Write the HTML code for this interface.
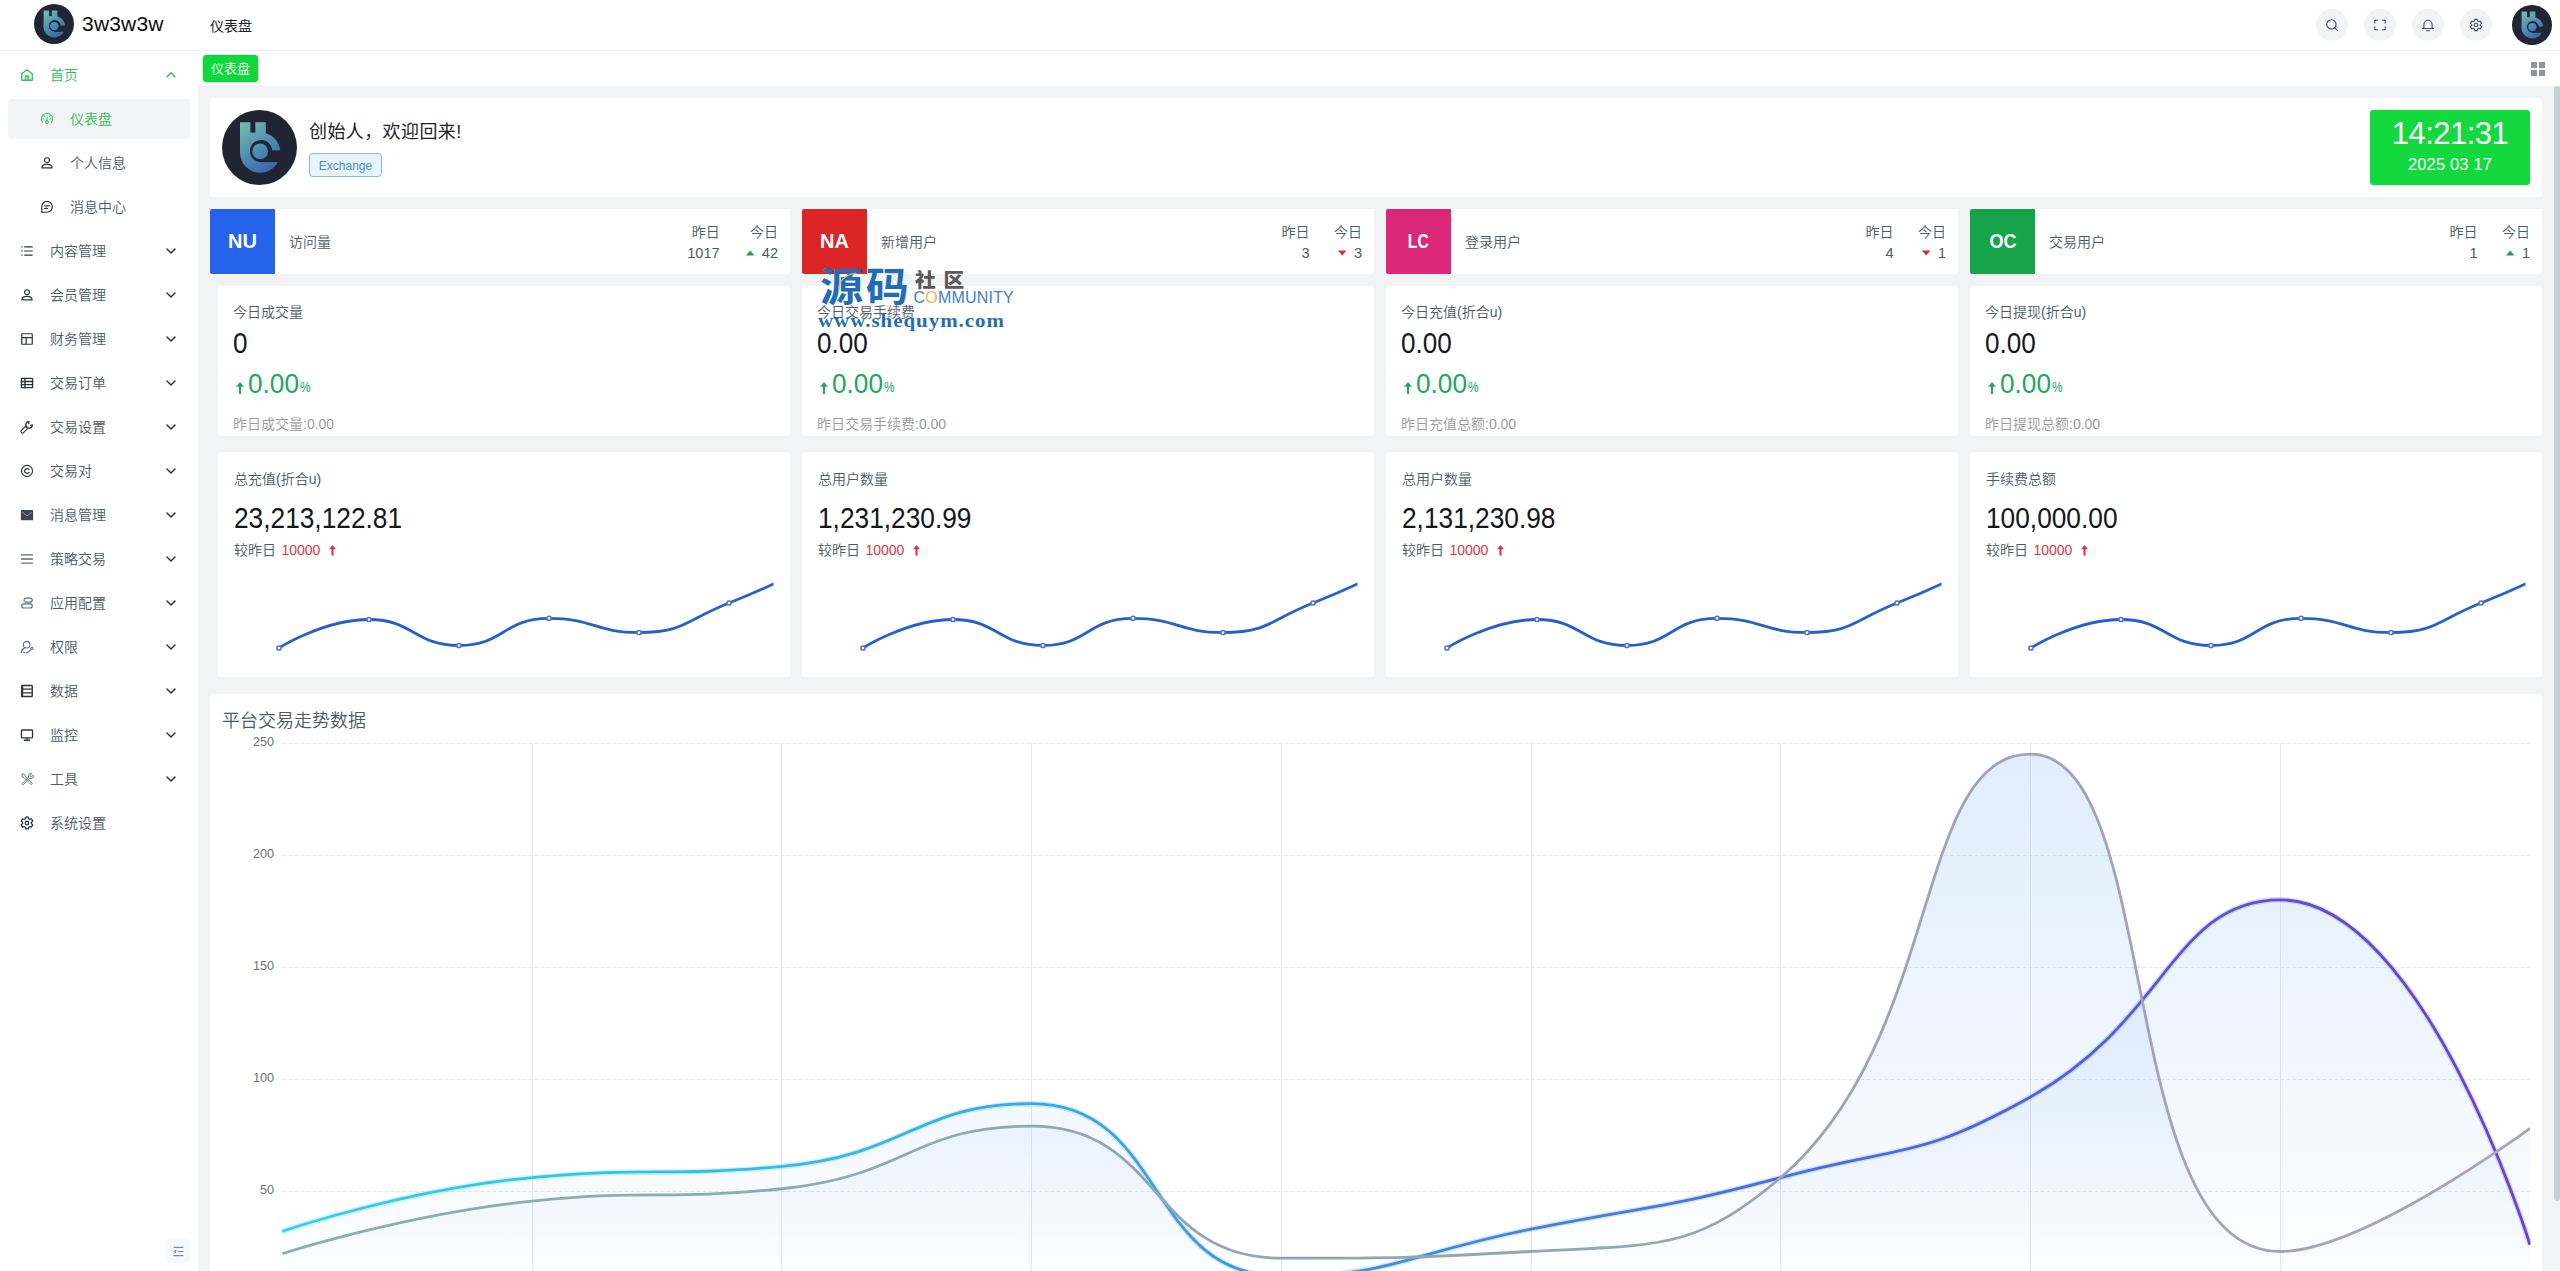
<!DOCTYPE html>
<html lang="zh-CN">
<head>
<meta charset="utf-8">
<title>3w3w3w - 仪表盘</title>
<style>
*{box-sizing:border-box;margin:0;padding:0}
html,body{width:2560px;height:1271px;overflow:hidden;background:#fff}
body{font-family:"Liberation Sans","Noto Sans CJK SC",sans-serif;font-weight:350;color:#333;position:relative;-webkit-font-smoothing:antialiased}
.abs{position:absolute}
svg{display:block;overflow:visible}
/* header */
#hdr{position:absolute;left:0;top:0;width:2560px;height:51px;background:#fff;border-bottom:1px solid #eff0f2}
#logo{position:absolute;left:34px;top:4px;width:40px;height:40px}
#brand{position:absolute;left:82px;top:8px;font-size:21px;line-height:32px;color:#0c0c0c;letter-spacing:.2px;white-space:nowrap}
#crumb{position:absolute;left:210px;top:16px;font-size:14px;line-height:20px;color:#1d2129;font-weight:400;white-space:nowrap}
.hbtn{position:absolute;top:9px;width:32px;height:32px;border-radius:50%;background:#f2f3f5}
.hbtn svg{position:absolute;left:9px;top:9px;width:14px;height:14px}
#avatar{position:absolute;left:2512px;top:5px;width:40px;height:40px}
/* tabs */
#tabs{position:absolute;left:198px;top:51px;width:2362px;height:35px;background:#fff}
#tag{position:absolute;left:203px;top:55px;width:55px;height:27px;border-radius:3px;background:#0ed83b;border:1px solid #1fc648;color:#fff;font-size:13px;line-height:25px;text-align:center;white-space:nowrap;box-shadow:0 0 3px rgba(20,214,62,.5)}
#gridico{position:absolute;left:2531px;top:62px;width:14px;height:14px}
#gridico i{position:absolute;width:6px;height:6px;background:#8993a1}
/* sidebar */
#side{position:absolute;left:0;top:51px;width:198px;height:1220px;background:#fff}
.mi{position:absolute;left:8px;width:182px;height:40px;border-radius:4px;font-size:14px;line-height:40px;color:#4e5969;white-space:nowrap}
.mi.on{background:#f2f3f5}
.mi.g{color:#2dbd52}
.mi .ic{position:absolute;left:12px;top:13px;width:14px;height:14px}
.mi .tx{position:absolute;left:42px;top:0}
.mi.sub .ic{left:32px}
.mi.sub .tx{left:62px}
.mi .ch{position:absolute;left:157px;top:15px;width:12px;height:10px}
#fold{position:absolute;left:166px;top:1239px;width:24px;height:24px;border-radius:3px;background:#f7f8fa}
/* main */
#main{position:absolute;left:198px;top:86px;width:2362px;height:1185px;background:#f2f3f5;overflow:hidden}
#mstrip{position:absolute;left:198px;top:85px;width:65px;height:1px;background:#f2f3f5}
#sbar{position:absolute;left:2554px;top:86px;width:6px;height:1185px;background:#f2f3f5}
#sbar i{position:absolute;left:0;top:0;width:6px;height:1114.5px;border-radius:3px;background:#c9cdd4}
.card{position:absolute;background:#fff;border-radius:4px}
</style>
</head>
<body>

<div id="hdr">
 <div id="logo"><svg viewBox="0 0 100 100" ><defs><linearGradient id="lga" gradientUnits="userSpaceOnUse" x1="26" y1="18" x2="72" y2="84"><stop offset="0" stop-color="#74bcb0"/><stop offset=".5" stop-color="#4f8db0"/><stop offset="1" stop-color="#395caa"/></linearGradient></defs><circle cx="50" cy="50" r="50" fill="#212433"/><rect x="24" y="16.3" width="34.4" height="42" fill="url(#lga)"/><circle cx="50.9" cy="56.7" r="26.9" fill="url(#lga)"/><rect x="37.9" y="15" width="6.5" height="15.2" fill="#212433"/><circle cx="52.1" cy="54.7" r="14.8" fill="#1b2638"/><rect x="52.1" y="53.9" width="27" height="15.6" fill="#212433"/><circle cx="50.9" cy="55.2" r="10.5" fill="url(#lga)"/></svg></div>
 <div id="brand">3w3w3w</div>
 <div id="crumb">仪表盘</div>
 <div class="hbtn" style="left:2316px"><svg viewBox="0 0 24 24" stroke="#414b59" stroke-width="1.85" fill="none" stroke-linecap="round" stroke-linejoin="round"><circle cx="11" cy="11" r="8"/><path d="M17 17l4.2 4.2"/></svg></div>
 <div class="hbtn" style="left:2364px"><svg viewBox="0 0 24 24" stroke="#414b59" stroke-width="1.85" fill="none" stroke-linecap="round" stroke-linejoin="round"><path d="M3 8.5V4h5M16 4h5v4.5M21 15.500V20h-5M8 20H3v-4.500"/></svg></div>
 <div class="hbtn" style="left:2412px"><svg viewBox="0 0 24 24" stroke="#414b59" stroke-width="1.85" fill="none" stroke-linecap="round" stroke-linejoin="round"><path d="M5 18V11a7 7 0 0 1 14 0v7M2.500 18h19M9.500 22h5"/></svg></div>
 <div class="hbtn" style="left:2460px"><svg viewBox="0 0 24 24" stroke="#414b59" stroke-width="1.85" fill="none" stroke-linecap="round" stroke-linejoin="round"><path d="M14.62 5.18L14.23 2.35L9.77 2.35L9.38 5.18L7.41 6.33L4.76 5.25L2.53 9.11L4.79 10.86L4.79 13.14L2.53 14.89L4.76 18.75L7.41 17.67L9.38 18.82L9.77 21.65L14.23 21.65L14.62 18.82L16.59 17.67L19.24 18.75L21.47 14.89L19.21 13.14L19.21 10.86L21.47 9.11L19.24 5.25L16.59 6.33Z"/><circle cx="12" cy="12" r="3"/></svg></div>
 <div id="avatar"><svg viewBox="0 0 100 100" ><defs><linearGradient id="lgb" gradientUnits="userSpaceOnUse" x1="26" y1="18" x2="72" y2="84"><stop offset="0" stop-color="#74bcb0"/><stop offset=".5" stop-color="#4f8db0"/><stop offset="1" stop-color="#395caa"/></linearGradient></defs><circle cx="50" cy="50" r="50" fill="#212433"/><rect x="24" y="16.3" width="34.4" height="42" fill="url(#lgb)"/><circle cx="50.9" cy="56.7" r="26.9" fill="url(#lgb)"/><rect x="37.9" y="15" width="6.5" height="15.2" fill="#212433"/><circle cx="52.1" cy="54.7" r="14.8" fill="#1b2638"/><rect x="52.1" y="53.9" width="27" height="15.6" fill="#212433"/><circle cx="50.9" cy="55.2" r="10.5" fill="url(#lgb)"/></svg></div>
</div>
<div id="tabs"></div>
<div id="tag">仪表盘</div>
<div id="gridico"><i style="left:0;top:0"></i><i style="left:8px;top:0"></i><i style="left:0;top:8px"></i><i style="left:8px;top:8px"></i></div>
<div id="side"><div class="mi g" style="top:4px"><svg class="ic" viewBox="0 0 24 24"><path stroke="#33c156" stroke-width="2.3" fill="none" stroke-linecap="round" stroke-linejoin="round" d="M3 9.800L12 3l9 6.800V21H3z"/><rect x="9" y="13.500" width="6" height="7.500" fill="#7fe39a" stroke="#33c156" stroke-width="1.800"/></svg><span class="tx">首页</span><svg class="ch" viewBox="0 0 12 10"><path d="M2 6.700L6 2.700l4 4" stroke="#33c156" stroke-width="1.500" fill="none" stroke-linecap="round" stroke-linejoin="round"/></svg></div><div class="mi g on sub" style="top:48px"><svg class="ic" viewBox="0 0 24 24"><path stroke="#33c156" stroke-width="2" fill="none" stroke-linecap="round" stroke-linejoin="round" d="M4.22 17.45A9.5 9.5 0 1 1 19.78 17.45"/><path stroke="#33c156" stroke-width="1.9" fill="none" stroke-linecap="round" stroke-linejoin="round" d="M12 14.8V8.200M4.60 12.00L6.60 12.00M6.77 6.77L8.18 8.18M17.23 6.77L15.82 8.18M19.40 12.00L17.40 12.00"/><circle stroke="#33c156" stroke-width="1.9" fill="none" stroke-linecap="round" stroke-linejoin="round" cx="12" cy="17.300" r="2.300"/></svg><span class="tx">仪表盘</span></div><div class="mi sub" style="top:92px"><svg class="ic" viewBox="0 0 24 24"><circle stroke="#2f3640" stroke-width="2.1" fill="none" stroke-linecap="round" stroke-linejoin="round" cx="12" cy="7.200" r="4.200"/><path stroke="#2f3640" stroke-width="2.1" fill="none" stroke-linecap="round" stroke-linejoin="round" d="M3.200 20.500c0-4 3-6 8.800-6s8.800 2 8.800 6z"/></svg><span class="tx">个人信息</span></div><div class="mi sub" style="top:136px"><svg class="ic" viewBox="0 0 24 24"><path stroke="#2f3640" stroke-width="2.1" fill="none" stroke-linecap="round" stroke-linejoin="round" d="M3 21V11.500a9 9 0 0 1 9-9 9 9 0 0 1 9 9 9 9 0 0 1-9 9.500z"/><path stroke="#2f3640" stroke-width="2.1" fill="none" stroke-linecap="round" stroke-linejoin="round" d="M8 10h8M8 14.500h5"/></svg><span class="tx">消息中心</span></div><div class="mi " style="top:180px"><svg class="ic" viewBox="0 0 24 24"><path stroke="#2f3640" stroke-width="2.1" fill="none" stroke-linecap="round" stroke-linejoin="round" d="M8 5h13M8 12h13M8 19h13"/><path stroke="#2f3640" stroke-width="2.4" fill="none" stroke-linecap="round" stroke-linejoin="round" d="M3.200 5h.2M3.200 12h.2M3.200 19h.2"/></svg><span class="tx">内容管理</span><svg class="ch" viewBox="0 0 12 10"><path d="M2 3l4 4 4-4" stroke="#2f3640" stroke-width="1.500" fill="none" stroke-linecap="round" stroke-linejoin="round"/></svg></div><div class="mi " style="top:224px"><svg class="ic" viewBox="0 0 24 24"><circle stroke="#2f3640" stroke-width="2.1" fill="none" stroke-linecap="round" stroke-linejoin="round" cx="12" cy="7.200" r="4.200"/><path stroke="#2f3640" stroke-width="2.1" fill="none" stroke-linecap="round" stroke-linejoin="round" d="M3.200 20.500c0-4 3-6 8.800-6s8.800 2 8.800 6z"/></svg><span class="tx">会员管理</span><svg class="ch" viewBox="0 0 12 10"><path d="M2 3l4 4 4-4" stroke="#2f3640" stroke-width="1.500" fill="none" stroke-linecap="round" stroke-linejoin="round"/></svg></div><div class="mi " style="top:268px"><svg class="ic" viewBox="0 0 24 24"><rect stroke="#2f3640" stroke-width="2.1" fill="none" stroke-linecap="round" stroke-linejoin="round" x="3" y="3" width="18" height="18" rx="1"/><path stroke="#2f3640" stroke-width="2.1" fill="none" stroke-linecap="round" stroke-linejoin="round" d="M3 9.500h18M10.500 9.500V21"/></svg><span class="tx">财务管理</span><svg class="ch" viewBox="0 0 12 10"><path d="M2 3l4 4 4-4" stroke="#2f3640" stroke-width="1.500" fill="none" stroke-linecap="round" stroke-linejoin="round"/></svg></div><div class="mi " style="top:312px"><svg class="ic" viewBox="0 0 24 24"><rect stroke="#2f3640" stroke-width="2.4" fill="none" stroke-linecap="round" stroke-linejoin="round" x="2.500" y="4" width="19" height="16" rx=".5"/><path stroke="#2f3640" stroke-width="2.4" fill="none" stroke-linecap="round" stroke-linejoin="round" d="M2.500 9.500h19M2.500 14.800h19M8.500 4v16"/></svg><span class="tx">交易订单</span><svg class="ch" viewBox="0 0 12 10"><path d="M2 3l4 4 4-4" stroke="#2f3640" stroke-width="1.500" fill="none" stroke-linecap="round" stroke-linejoin="round"/></svg></div><div class="mi " style="top:356px"><svg class="ic" viewBox="0 0 24 24"><g transform="rotate(-45 12 12)"><rect stroke="#2f3640" stroke-width="1.9" fill="none" stroke-linecap="round" stroke-linejoin="round" x="-1.5" y="9.400" width="13.500" height="5.200" rx="2.600"/><path stroke="#2f3640" stroke-width="2.3" fill="none" stroke-linecap="round" stroke-linejoin="round" d="M20.600 7.710A5.600 5.600 0 1 0 20.600 16.290" stroke-linecap="butt"/><path stroke="#2f3640" stroke-width="2.3" fill="none" stroke-linecap="round" stroke-linejoin="round" d="M20.600 7.710L18.300 9.800M20.600 16.290L18.300 14.200" stroke-linecap="butt"/></g></svg><span class="tx">交易设置</span><svg class="ch" viewBox="0 0 12 10"><path d="M2 3l4 4 4-4" stroke="#2f3640" stroke-width="1.500" fill="none" stroke-linecap="round" stroke-linejoin="round"/></svg></div><div class="mi " style="top:400px"><svg class="ic" viewBox="0 0 24 24"><circle stroke="#2f3640" stroke-width="2.1" fill="none" stroke-linecap="round" stroke-linejoin="round" cx="12" cy="12" r="9.500"/><path stroke="#2f3640" stroke-width="2.1" fill="none" stroke-linecap="round" stroke-linejoin="round" d="M15.500 9.500a4.200 4.200 0 1 0 0 5"/></svg><span class="tx">交易对</span><svg class="ch" viewBox="0 0 12 10"><path d="M2 3l4 4 4-4" stroke="#2f3640" stroke-width="1.500" fill="none" stroke-linecap="round" stroke-linejoin="round"/></svg></div><div class="mi " style="top:444px"><svg class="ic" viewBox="0 0 24 24"><rect x="1.500" y="3.500" width="21" height="17.500" rx="1.500" fill="#3d4656"/><path d="M3.500 7l8.500 6.500L20.500 7" stroke="#98a1ae" stroke-width="1.600" fill="none"/></svg><span class="tx">消息管理</span><svg class="ch" viewBox="0 0 12 10"><path d="M2 3l4 4 4-4" stroke="#2f3640" stroke-width="1.500" fill="none" stroke-linecap="round" stroke-linejoin="round"/></svg></div><div class="mi " style="top:488px"><svg class="ic" viewBox="0 0 24 24"><path stroke="#636b78" stroke-width="2.2" fill="none" stroke-linecap="round" stroke-linejoin="round" d="M2.500 5h19M2.500 12h19M2.500 19h19" stroke-linecap="butt"/></svg><span class="tx">策略交易</span><svg class="ch" viewBox="0 0 12 10"><path d="M2 3l4 4 4-4" stroke="#2f3640" stroke-width="1.500" fill="none" stroke-linecap="round" stroke-linejoin="round"/></svg></div><div class="mi " style="top:532px"><svg class="ic" viewBox="0 0 24 24"><path stroke="#636b78" stroke-width="2" fill="none" stroke-linecap="round" stroke-linejoin="round" d="M9 10.500H17.500a3.500 3.500 0 0 0 0-7H10.500a3.500 3.500 0 0 0-3.500 3.500V9"/><path stroke="#636b78" stroke-width="2" fill="none" stroke-linecap="round" stroke-linejoin="round" d="M6.500 13.500H17.500a3.500 3.500 0 0 1 0 7H6.500a3.500 3.500 0 0 1 0-7z"/></svg><span class="tx">应用配置</span><svg class="ch" viewBox="0 0 12 10"><path d="M2 3l4 4 4-4" stroke="#2f3640" stroke-width="1.500" fill="none" stroke-linecap="round" stroke-linejoin="round"/></svg></div><div class="mi " style="top:576px"><svg class="ic" viewBox="0 0 24 24"><circle stroke="#636b78" stroke-width="1.9" fill="none" stroke-linecap="round" stroke-linejoin="round" cx="11.300" cy="8" r="5.600"/><path stroke="#636b78" stroke-width="1.9" fill="none" stroke-linecap="round" stroke-linejoin="round" d="M2.200 22c.3-4.200 2.300-7 5.300-8.300"/><path stroke="#636b78" stroke-width="1.9" fill="none" stroke-linecap="round" stroke-linejoin="round" d="M10.500 22l3.200-.8 5.300-5.300"/><circle stroke="#636b78" stroke-width="1.8" fill="none" stroke-linecap="round" stroke-linejoin="round" cx="20.600" cy="14.300" r="1.900"/><path stroke="#636b78" stroke-width="1.7" fill="none" stroke-linecap="round" stroke-linejoin="round" d="M6 21.500l2.500 .5"/></svg><span class="tx">权限</span><svg class="ch" viewBox="0 0 12 10"><path d="M2 3l4 4 4-4" stroke="#2f3640" stroke-width="1.500" fill="none" stroke-linecap="round" stroke-linejoin="round"/></svg></div><div class="mi " style="top:620px"><svg class="ic" viewBox="0 0 24 24"><rect stroke="#2f3640" stroke-width="2.4" fill="none" stroke-linecap="round" stroke-linejoin="round" x="3" y="2.500" width="18" height="19" rx="1"/><path stroke="#2f3640" stroke-width="2.4" fill="none" stroke-linecap="round" stroke-linejoin="round" d="M3 8.800h18M3 15.200h18"/><path stroke="#2f3640" stroke-width="3" fill="none" stroke-linecap="round" stroke-linejoin="round" d="M4 3v18" stroke-linecap="butt"/></svg><span class="tx">数据</span><svg class="ch" viewBox="0 0 12 10"><path d="M2 3l4 4 4-4" stroke="#2f3640" stroke-width="1.500" fill="none" stroke-linecap="round" stroke-linejoin="round"/></svg></div><div class="mi " style="top:664px"><svg class="ic" viewBox="0 0 24 24"><rect stroke="#2f3640" stroke-width="2.3" fill="none" stroke-linecap="round" stroke-linejoin="round" x="2.500" y="3.500" width="19" height="13.500" rx="1"/><path stroke="#2f3640" stroke-width="2.3" fill="none" stroke-linecap="round" stroke-linejoin="round" d="M12 17v3.500M7.500 21h9"/></svg><span class="tx">监控</span><svg class="ch" viewBox="0 0 12 10"><path d="M2 3l4 4 4-4" stroke="#2f3640" stroke-width="1.500" fill="none" stroke-linecap="round" stroke-linejoin="round"/></svg></div><div class="mi " style="top:708px"><svg class="ic" viewBox="0 0 24 24"><path stroke="#636b78" stroke-width="1.6" fill="none" stroke-linecap="round" stroke-linejoin="round" d="M4.500 3l3.500 1.500 1 3.200L20.500 19a1.400 1.400 0 0 1-2 2L7 9.500 4 8.500z"/><path stroke="#636b78" stroke-width="1.6" fill="none" stroke-linecap="round" stroke-linejoin="round" d="M15 8.500l-11 11a1.400 1.400 0 0 0 2 2l11-11"/><path stroke="#636b78" stroke-width="1.6" fill="none" stroke-linecap="round" stroke-linejoin="round" d="M14.500 8a4 4 0 0 1 5.500-5l-2.500 2.500.5 2 2 .5L22.500 5.500a4 4 0 0 1-5 5.500"/></svg><span class="tx">工具</span><svg class="ch" viewBox="0 0 12 10"><path d="M2 3l4 4 4-4" stroke="#2f3640" stroke-width="1.500" fill="none" stroke-linecap="round" stroke-linejoin="round"/></svg></div><div class="mi " style="top:752px"><svg class="ic" viewBox="0 0 24 24"><path stroke="#2f3640" stroke-width="2.2" fill="none" stroke-linecap="round" stroke-linejoin="round" d="M14.76 4.81L14.34 1.87L9.66 1.87L9.24 4.81L7.15 6.02L4.39 4.91L2.05 8.96L4.39 10.80L4.39 13.20L2.05 15.04L4.39 19.09L7.15 17.98L9.24 19.19L9.66 22.13L14.34 22.13L14.76 19.19L16.85 17.98L19.61 19.09L21.95 15.04L19.61 13.20L19.61 10.80L21.95 8.96L19.61 4.91L16.85 6.02Z"/><circle stroke="#2f3640" stroke-width="2.2" fill="none" stroke-linecap="round" stroke-linejoin="round" cx="12" cy="12" r="3"/></svg><span class="tx">系统设置</span></div></div>
<div id="fold"><svg viewBox="0 0 24 24" style="position:absolute;left:5.5px;top:5.5px;width:13px;height:13px"><path stroke="#848b97" stroke-width="2.200" fill="none" d="M3 4.500h18M10.500 12h10.500M3 19.500h18"/><path fill="#848b97" d="M2.500 12l5-3.800v7.600z"/></svg></div>
<style>
.s1{border-radius:2px}
.s1 .bx{position:absolute;left:0;top:0;width:65px;height:65px;border-radius:2px 0 0 2px;color:#fff;font-weight:bold;font-size:20px;line-height:65px;text-align:center}
.s1 .lb{position:absolute;left:79px;top:23px;font-size:14px;line-height:20px;color:#4e5969;white-space:nowrap}
.s1 .c1,.s1 .c2{position:absolute;top:13px;text-align:right;font-size:14px;line-height:20px;color:#4e5969;white-space:nowrap}
.s1 .c2{right:12px}
.s1 .c1{right:64.500px}
.s1 .v{position:relative;margin-top:.5px;font-size:14.6px}
.s1 .nw{position:relative;display:inline-block;padding-left:17px}
.s1 .tri{left:1px;top:7px;width:8.4px;height:6px}
.s1.w1 .c1{right:70.3px}
.s2 .t{position:absolute;left:15px;top:16px;font-size:14px;line-height:20px;color:#4e5969;white-space:nowrap}
.s2 .v{position:absolute;left:15px;top:39.5px;font-size:29.5px;line-height:34px;color:#16191f;white-space:nowrap;transform:scaleX(.885);transform-origin:0 0}
.s2 .p{position:absolute;left:15px;top:80px;height:34px;white-space:nowrap;color:#22a85a}
.s2 .p .ar{position:absolute;left:3px;top:16px;width:8px;height:12px}
.s2 .p .n{position:absolute;left:14.500px;top:0;font-size:28.5px;line-height:34.6px;transform:scaleX(.92);transform-origin:0 0}
.s2 .p .pc{position:absolute;left:67px;top:12.5px;font-size:15px;line-height:16px;transform:scaleX(.8);transform-origin:0 0}
.s2 .f{position:absolute;left:15px;top:128px;font-size:14px;line-height:20px;color:#9b9b9b;white-space:nowrap}
.s3 .t{position:absolute;left:16px;top:17px;font-size:14px;line-height:20px;color:#4e5969;white-space:nowrap}
.s3 .v{position:absolute;left:16px;top:48px;font-size:29px;line-height:36px;color:#14171c;white-space:nowrap;transform:scaleX(.906);transform-origin:0 0}
.s3 .c{position:absolute;left:16px;top:88px;font-size:14px;line-height:20px;color:#4e5969;white-space:nowrap}
.s3 .c .r{color:#d63a3a;margin-left:1.5px}
.s3 .c .ar{position:absolute;left:94.500px;top:5px;width:7px;height:10.500px}
</style><div id="main"></div><div id="mstrip"></div><div id="sbar"><i></i></div>
<div class="card" style="left:210px;top:98px;width:2332px;height:99px">
<div class="abs" style="left:12px;top:12px;width:75px;height:75px"><svg viewBox="0 0 100 100" ><defs><linearGradient id="lgc" gradientUnits="userSpaceOnUse" x1="26" y1="18" x2="72" y2="84"><stop offset="0" stop-color="#74bcb0"/><stop offset=".5" stop-color="#4f8db0"/><stop offset="1" stop-color="#395caa"/></linearGradient></defs><circle cx="50" cy="50" r="50" fill="#212433"/><rect x="24" y="16.3" width="34.4" height="42" fill="url(#lgc)"/><circle cx="50.9" cy="56.7" r="26.9" fill="url(#lgc)"/><rect x="37.9" y="15" width="6.5" height="15.2" fill="#212433"/><circle cx="52.1" cy="54.7" r="14.8" fill="#1b2638"/><rect x="52.1" y="53.9" width="27" height="15.6" fill="#212433"/><circle cx="50.9" cy="55.2" r="10.5" fill="url(#lgc)"/></svg></div>
<div class="abs" style="left:99px;top:21px;font-size:18px;line-height:26px;letter-spacing:.4px;color:#1d2129;font-weight:400;white-space:nowrap">创始人，欢迎回来!</div>
<div class="abs" style="left:99px;top:55px;width:73px;height:24px;border:1px solid #86b9e6;border-radius:4px;background:#e8f4ff;color:#4a8fd2;font-size:12px;line-height:24px;text-align:center">Exchange</div>
<div class="abs" style="left:2160px;top:12px;width:160px;height:75px;border-radius:3px;background:#13d93f;color:#fff;text-align:center">
<div class="abs" style="left:0;top:6px;width:160px;font-size:31px;line-height:36px;letter-spacing:-.55px;white-space:nowrap">14:21:31</div>
<div class="abs" style="left:0;top:44px;width:160px;font-size:16.5px;line-height:20px;letter-spacing:.15px;white-space:nowrap">2025 03 17</div>
</div></div>
<div class="card s1 w1" style="left:210px;top:209px;width:580px;height:65px">
<div class="bx" style="background:#2563eb"><span style="display:inline-block;transform:scaleX(1)">NU</span></div><div class="lb">访问量</div>
<div class="c2"><div class="t">今日</div><div class="v"><span class="nw"><svg class="abs tri" viewBox="0 0 10 6"><path d="M5 0L10 6H0z" fill="#1f9d4d"/></svg>42</span></div></div>
<div class="c1"><div class="t">昨日</div><div class="v">1017</div></div>
</div>
<div class="card s1" style="left:802px;top:209px;width:572px;height:65px">
<div class="bx" style="background:#dc2626"><span style="display:inline-block;transform:scaleX(1)">NA</span></div><div class="lb">新增用户</div>
<div class="c2"><div class="t">今日</div><div class="v"><span class="nw"><svg class="abs tri" viewBox="0 0 10 6"><path d="M0 0H10L5 6z" fill="#d92b2b"/></svg>3</span></div></div>
<div class="c1"><div class="t">昨日</div><div class="v">3</div></div>
</div>
<div class="card s1" style="left:1386px;top:209px;width:572px;height:65px">
<div class="bx" style="background:#db2777"><span style="display:inline-block;transform:scaleX(0.79)">LC</span></div><div class="lb">登录用户</div>
<div class="c2"><div class="t">今日</div><div class="v"><span class="nw"><svg class="abs tri" viewBox="0 0 10 6"><path d="M0 0H10L5 6z" fill="#d92b2b"/></svg>1</span></div></div>
<div class="c1"><div class="t">昨日</div><div class="v">4</div></div>
</div>
<div class="card s1" style="left:1970px;top:209px;width:572px;height:65px">
<div class="bx" style="background:#16a34a"><span style="display:inline-block;transform:scaleX(0.9)">OC</span></div><div class="lb">交易用户</div>
<div class="c2"><div class="t">今日</div><div class="v"><span class="nw"><svg class="abs tri" viewBox="0 0 10 6"><path d="M5 0L10 6H0z" fill="#1f9d4d"/></svg>1</span></div></div>
<div class="c1"><div class="t">昨日</div><div class="v">1</div></div>
</div>
<div class="card s2" style="left:218px;top:286px;width:572px;height:150px">
<div class="t">今日成交量</div><div class="v">0</div>
<div class="p"><svg class="ar" viewBox="0 0 8 12"><path d="M4 0L8 4.800H5V12H3V4.800H0z" fill="#22a85a"/></svg><span class="n">0.00</span><span class="pc">%</span></div>
<div class="f">昨日成交量:0.00</div></div>
<div class="card s2" style="left:802px;top:286px;width:572px;height:150px">
<div class="t">今日交易手续费</div><div class="v">0.00</div>
<div class="p"><svg class="ar" viewBox="0 0 8 12"><path d="M4 0L8 4.800H5V12H3V4.800H0z" fill="#22a85a"/></svg><span class="n">0.00</span><span class="pc">%</span></div>
<div class="f">昨日交易手续费:0.00</div></div>
<div class="card s2" style="left:1386px;top:286px;width:572px;height:150px">
<div class="t">今日充值(折合u)</div><div class="v">0.00</div>
<div class="p"><svg class="ar" viewBox="0 0 8 12"><path d="M4 0L8 4.800H5V12H3V4.800H0z" fill="#22a85a"/></svg><span class="n">0.00</span><span class="pc">%</span></div>
<div class="f">昨日充值总额:0.00</div></div>
<div class="card s2" style="left:1970px;top:286px;width:572px;height:150px">
<div class="t">今日提现(折合u)</div><div class="v">0.00</div>
<div class="p"><svg class="ar" viewBox="0 0 8 12"><path d="M4 0L8 4.800H5V12H3V4.800H0z" fill="#22a85a"/></svg><span class="n">0.00</span><span class="pc">%</span></div>
<div class="f">昨日提现总额:0.00</div></div>
<div class="card s3" style="left:218px;top:452px;width:572px;height:224.7px">
<div class="t">总充值(折合u)</div><div class="v">23,213,122.81</div>
<div class="c">较昨日 <span class="r">10000</span><svg class="ar" viewBox="0 0 8 12"><path d="M4 0L8 4.800H5.200V12H2.800V4.800H0z" fill="#d63a3a"/></svg></div>
<svg class="abs" style="left:0;top:0" width="572" height="224" viewBox="0 0 572 224"><defs><clipPath id="cp218"><rect x="16" y="100" width="539.500" height="110"/></clipPath></defs><g clip-path="url(#cp218)"><path d="M61.00 196.00C61.00 196.00 105.83 167.50 151.00 167.50C195.83 167.50 196.08 193.50 241.00 193.50C286.08 193.50 285.29 166.30 331.00 166.30C375.29 166.30 376.87 180.50 421.00 180.50C466.87 180.50 467.02 168.35 511.00 151.00C557.02 132.85 601.00 109.50 601.00 109.50" fill="none" stroke="#2660cf" stroke-width="2.800" stroke-linecap="round"/><circle cx="61" cy="196" r="2.1" fill="#fff" stroke="#5470c6" stroke-width="1.5"/><circle cx="151" cy="167.5" r="2.1" fill="#fff" stroke="#5470c6" stroke-width="1.5"/><circle cx="241" cy="193.5" r="2.1" fill="#fff" stroke="#5470c6" stroke-width="1.5"/><circle cx="331" cy="166.29999999999995" r="2.1" fill="#fff" stroke="#5470c6" stroke-width="1.5"/><circle cx="421" cy="180.5" r="2.1" fill="#fff" stroke="#5470c6" stroke-width="1.5"/><circle cx="511" cy="151" r="2.1" fill="#fff" stroke="#5470c6" stroke-width="1.5"/></g></svg>
</div>
<div class="card s3" style="left:802px;top:452px;width:572px;height:224.7px">
<div class="t">总用户数量</div><div class="v">1,231,230.99</div>
<div class="c">较昨日 <span class="r">10000</span><svg class="ar" viewBox="0 0 8 12"><path d="M4 0L8 4.800H5.200V12H2.800V4.800H0z" fill="#d63a3a"/></svg></div>
<svg class="abs" style="left:0;top:0" width="572" height="224" viewBox="0 0 572 224"><defs><clipPath id="cp802"><rect x="16" y="100" width="539.500" height="110"/></clipPath></defs><g clip-path="url(#cp802)"><path d="M61.00 196.00C61.00 196.00 105.83 167.50 151.00 167.50C195.83 167.50 196.08 193.50 241.00 193.50C286.08 193.50 285.29 166.30 331.00 166.30C375.29 166.30 376.87 180.50 421.00 180.50C466.87 180.50 467.02 168.35 511.00 151.00C557.02 132.85 601.00 109.50 601.00 109.50" fill="none" stroke="#2660cf" stroke-width="2.800" stroke-linecap="round"/><circle cx="61" cy="196" r="2.1" fill="#fff" stroke="#5470c6" stroke-width="1.5"/><circle cx="151" cy="167.5" r="2.1" fill="#fff" stroke="#5470c6" stroke-width="1.5"/><circle cx="241" cy="193.5" r="2.1" fill="#fff" stroke="#5470c6" stroke-width="1.5"/><circle cx="331" cy="166.29999999999995" r="2.1" fill="#fff" stroke="#5470c6" stroke-width="1.5"/><circle cx="421" cy="180.5" r="2.1" fill="#fff" stroke="#5470c6" stroke-width="1.5"/><circle cx="511" cy="151" r="2.1" fill="#fff" stroke="#5470c6" stroke-width="1.5"/></g></svg>
</div>
<div class="card s3" style="left:1386px;top:452px;width:572px;height:224.7px">
<div class="t">总用户数量</div><div class="v">2,131,230.98</div>
<div class="c">较昨日 <span class="r">10000</span><svg class="ar" viewBox="0 0 8 12"><path d="M4 0L8 4.800H5.200V12H2.800V4.800H0z" fill="#d63a3a"/></svg></div>
<svg class="abs" style="left:0;top:0" width="572" height="224" viewBox="0 0 572 224"><defs><clipPath id="cp1386"><rect x="16" y="100" width="539.500" height="110"/></clipPath></defs><g clip-path="url(#cp1386)"><path d="M61.00 196.00C61.00 196.00 105.83 167.50 151.00 167.50C195.83 167.50 196.08 193.50 241.00 193.50C286.08 193.50 285.29 166.30 331.00 166.30C375.29 166.30 376.87 180.50 421.00 180.50C466.87 180.50 467.02 168.35 511.00 151.00C557.02 132.85 601.00 109.50 601.00 109.50" fill="none" stroke="#2660cf" stroke-width="2.800" stroke-linecap="round"/><circle cx="61" cy="196" r="2.1" fill="#fff" stroke="#5470c6" stroke-width="1.5"/><circle cx="151" cy="167.5" r="2.1" fill="#fff" stroke="#5470c6" stroke-width="1.5"/><circle cx="241" cy="193.5" r="2.1" fill="#fff" stroke="#5470c6" stroke-width="1.5"/><circle cx="331" cy="166.29999999999995" r="2.1" fill="#fff" stroke="#5470c6" stroke-width="1.5"/><circle cx="421" cy="180.5" r="2.1" fill="#fff" stroke="#5470c6" stroke-width="1.5"/><circle cx="511" cy="151" r="2.1" fill="#fff" stroke="#5470c6" stroke-width="1.5"/></g></svg>
</div>
<div class="card s3" style="left:1970px;top:452px;width:572px;height:224.7px">
<div class="t">手续费总额</div><div class="v">100,000.00</div>
<div class="c">较昨日 <span class="r">10000</span><svg class="ar" viewBox="0 0 8 12"><path d="M4 0L8 4.800H5.200V12H2.800V4.800H0z" fill="#d63a3a"/></svg></div>
<svg class="abs" style="left:0;top:0" width="572" height="224" viewBox="0 0 572 224"><defs><clipPath id="cp1970"><rect x="16" y="100" width="539.500" height="110"/></clipPath></defs><g clip-path="url(#cp1970)"><path d="M61.00 196.00C61.00 196.00 105.83 167.50 151.00 167.50C195.83 167.50 196.08 193.50 241.00 193.50C286.08 193.50 285.29 166.30 331.00 166.30C375.29 166.30 376.87 180.50 421.00 180.50C466.87 180.50 467.02 168.35 511.00 151.00C557.02 132.85 601.00 109.50 601.00 109.50" fill="none" stroke="#2660cf" stroke-width="2.800" stroke-linecap="round"/><circle cx="61" cy="196" r="2.1" fill="#fff" stroke="#5470c6" stroke-width="1.5"/><circle cx="151" cy="167.5" r="2.1" fill="#fff" stroke="#5470c6" stroke-width="1.5"/><circle cx="241" cy="193.5" r="2.1" fill="#fff" stroke="#5470c6" stroke-width="1.5"/><circle cx="331" cy="166.29999999999995" r="2.1" fill="#fff" stroke="#5470c6" stroke-width="1.5"/><circle cx="421" cy="180.5" r="2.1" fill="#fff" stroke="#5470c6" stroke-width="1.5"/><circle cx="511" cy="151" r="2.1" fill="#fff" stroke="#5470c6" stroke-width="1.5"/></g></svg>
</div><div class="card" style="left:210px;top:694px;width:2332px;height:600px;overflow:hidden">
<div class="abs" style="left:12px;top:13.5px;font-size:18px;line-height:26px;color:#4e5969;white-space:nowrap">平台交易走势数据</div>
<svg class="abs" style="left:0;top:0" width="2332" height="600" viewBox="0 0 2332 600" font-family="Liberation Sans, sans-serif">
<defs>
<linearGradient id="ln1" gradientUnits="userSpaceOnUse" x1="72" y1="0" x2="2320" y2="0"><stop offset="0" stop-color="#30d2e8"/><stop offset=".25" stop-color="#36b8e4"/><stop offset=".5" stop-color="#3a8ee0"/><stop offset=".75" stop-color="#4d62d8"/><stop offset="1" stop-color="#6a42c8"/></linearGradient>
<linearGradient id="ln2" gradientUnits="userSpaceOnUse" x1="72" y1="0" x2="2320" y2="0"><stop offset="0" stop-color="#84b0b6"/><stop offset=".5" stop-color="#96a3b4"/><stop offset="1" stop-color="#aaa2c2"/></linearGradient>
<linearGradient id="ar1" gradientUnits="userSpaceOnUse" x1="0" y1="49" x2="0" y2="609"><stop offset="0" stop-color="#4896f5" stop-opacity=".171"/><stop offset=".727" stop-color="#4896f5" stop-opacity=".055"/><stop offset=".977" stop-color="#4896f5" stop-opacity="0"/><stop offset="1" stop-color="#4896f5" stop-opacity="0"/></linearGradient>
<clipPath id="pc"><rect x="70.9" y="0" width="2249.6" height="600"/></clipPath>
</defs>
<path d="M72.4 49.5H2320.0" stroke="#e5e6eb" stroke-width="1" stroke-dasharray="4 2" fill="none"/><text x="64" y="52.3" text-anchor="end" font-size="12.6" fill="#6e7079">250</text><path d="M72.4 161.5H2320.0" stroke="#e5e6eb" stroke-width="1" stroke-dasharray="4 2" fill="none"/><text x="64" y="164.3" text-anchor="end" font-size="12.6" fill="#6e7079">200</text><path d="M72.4 273.5H2320.0" stroke="#e5e6eb" stroke-width="1" stroke-dasharray="4 2" fill="none"/><text x="64" y="276.3" text-anchor="end" font-size="12.6" fill="#6e7079">150</text><path d="M72.4 385.5H2320.0" stroke="#e5e6eb" stroke-width="1" stroke-dasharray="4 2" fill="none"/><text x="64" y="388.3" text-anchor="end" font-size="12.6" fill="#6e7079">100</text><path d="M72.4 497.5H2320.0" stroke="#e5e6eb" stroke-width="1" stroke-dasharray="4 2" fill="none"/><text x="64" y="500.3" text-anchor="end" font-size="12.6" fill="#6e7079">50</text><path d="M322.5 49.0V600" stroke="#e8e9ed" stroke-width="1" fill="none"/><path d="M571.5 49.0V600" stroke="#e8e9ed" stroke-width="1" fill="none"/><path d="M821.5 49.0V600" stroke="#e8e9ed" stroke-width="1" fill="none"/><path d="M1071.5 49.0V600" stroke="#e8e9ed" stroke-width="1" fill="none"/><path d="M1321.5 49.0V600" stroke="#e8e9ed" stroke-width="1" fill="none"/><path d="M1570.5 49.0V600" stroke="#e8e9ed" stroke-width="1" fill="none"/><path d="M1820.5 49.0V600" stroke="#e8e9ed" stroke-width="1" fill="none"/><path d="M2070.5 49.0V600" stroke="#e8e9ed" stroke-width="1" fill="none"/>
<g clip-path="url(#pc)">
<path d="M72.40 537.32C72.40 537.32 195.91 495.01 322.13 483.56C445.64 472.36 448.84 483.56 571.86 472.36C698.57 460.82 706.97 409.64 821.59 409.64C956.70 409.64 935.40 582.12 1071.32 582.12C1185.13 582.12 1196.40 559.68 1321.05 535.08C1446.13 510.40 1447.71 516.13 1570.78 483.56C1697.44 450.05 1707.63 465.69 1820.51 402.92C1957.36 326.81 1963.45 205.80 2070.24 205.80C2213.18 205.80 2319.97 550.76 2319.97 550.76L2319.97 609.00L72.40 609.00Z" fill="url(#ar1)"/>
<path d="M72.40 537.32C72.40 537.32 195.91 495.01 322.13 483.56C445.64 472.36 448.84 483.56 571.86 472.36C698.57 460.82 706.97 409.64 821.59 409.64C956.70 409.64 935.40 582.12 1071.32 582.12C1185.13 582.12 1196.40 559.68 1321.05 535.08C1446.13 510.40 1447.71 516.13 1570.78 483.56C1697.44 450.05 1707.63 465.69 1820.51 402.92C1957.36 326.81 1963.45 205.80 2070.24 205.80C2213.18 205.80 2319.97 550.76 2319.97 550.76" fill="none" stroke="url(#ln1)" stroke-width="5.5" stroke-opacity=".22" stroke-linejoin="round"/>
<path d="M72.40 537.32C72.40 537.32 195.91 495.01 322.13 483.56C445.64 472.36 448.84 483.56 571.86 472.36C698.57 460.82 706.97 409.64 821.59 409.64C956.70 409.64 935.40 582.12 1071.32 582.12C1185.13 582.12 1196.40 559.68 1321.05 535.08C1446.13 510.40 1447.71 516.13 1570.78 483.56C1697.44 450.05 1707.63 465.69 1820.51 402.92C1957.36 326.81 1963.45 205.80 2070.24 205.80C2213.18 205.80 2319.97 550.76 2319.97 550.76" fill="none" stroke="url(#ln1)" stroke-width="2.8" stroke-linejoin="round"/>
<path d="M72.40 559.72C72.40 559.72 195.98 519.66 322.13 507.08C445.71 494.76 448.83 507.08 571.86 494.76C698.56 482.07 702.52 432.04 821.59 432.04C952.25 432.04 938.78 564.20 1071.32 564.20C1188.51 564.20 1198.78 564.20 1321.05 557.48C1448.51 550.47 1484.29 557.48 1570.78 483.56C1734.02 344.05 1703.38 60.20 1820.51 60.20C1953.11 60.20 1903.80 557.48 2070.24 557.48C2153.53 557.48 2319.97 434.28 2319.97 434.28L2319.97 609.00L72.40 609.00Z" fill="url(#ar1)"/>
<path d="M72.40 559.72C72.40 559.72 195.98 519.66 322.13 507.08C445.71 494.76 448.83 507.08 571.86 494.76C698.56 482.07 702.52 432.04 821.59 432.04C952.25 432.04 938.78 564.20 1071.32 564.20C1188.51 564.20 1198.78 564.20 1321.05 557.48C1448.51 550.47 1484.29 557.48 1570.78 483.56C1734.02 344.05 1703.38 60.20 1820.51 60.20C1953.11 60.20 1903.80 557.48 2070.24 557.48C2153.53 557.48 2319.97 434.28 2319.97 434.28" fill="none" stroke="url(#ln2)" stroke-width="2.8" stroke-linejoin="round"/>
</g>
</svg></div><div id="wm" class="abs" style="left:0;top:0;width:0;height:0;white-space:nowrap;font-family:'Liberation Sans','Noto Sans CJK SC',sans-serif">
<div class="abs" style="left:819.500px;top:259px;font-size:39.500px;line-height:56px;font-weight:700;color:#1f6db8;letter-spacing:2.500px;transform:scaleX(1.09);transform-origin:0 0">源码</div>
<svg class="abs" style="left:836px;top:270px" width="24" height="24" viewBox="0 0 24 24"><path d="M3 19.500C2 12 10 3.500 20 3.300" stroke="#efb540" stroke-width="1.300" fill="none" stroke-linecap="round"/></svg>
<div class="abs" style="left:915px;top:264.500px;font-size:19.500px;line-height:30px;font-weight:900;color:#595959;letter-spacing:7.500px;transform:scaleX(1.06);transform-origin:0 0">社区</div>
<div class="abs" style="left:913.500px;top:288px;font-size:16px;line-height:20px;color:#3f80c6;letter-spacing:.200px">C<span style="color:#efb540">O</span>MMUNITY</div>
<div class="abs" style="left:818px;top:310px;font-family:'Liberation Serif',serif;font-weight:bold;font-size:18px;line-height:22px;color:#1f6db8;letter-spacing:.830px;transform:scaleX(1.165);transform-origin:0 0">www.shequym.com</div>
</div>
</body></html>
